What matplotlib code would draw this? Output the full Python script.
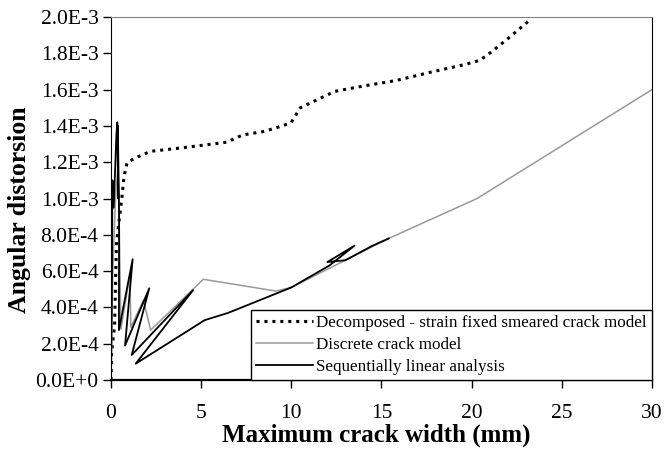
import matplotlib
matplotlib.use("Agg")
import matplotlib.pyplot as plt
from matplotlib.ticker import FuncFormatter, MultipleLocator

# Decomposed - strain fixed smeared crack model (dotted)
smeared_x = [0, 0.03, 0.2, 0.3, 0.45, 0.6, 0.7, 0.8, 0.9, 1.5, 2.2, 4.0, 6.4, 7.3, 8.5,
             9.5, 10.0, 10.5, 12.4, 14.0, 15.8, 17.9, 19.7, 20.4, 20.8, 22.0, 23.3]
smeared_y = [0, 0.15, 0.30, 0.75, 0.88, 1.00, 1.10, 1.16, 1.20, 1.23, 1.26, 1.28, 1.31, 1.35, 1.37,
             1.40, 1.42, 1.50, 1.59, 1.62, 1.65, 1.70, 1.74, 1.76, 1.785, 1.88, 1.99]

# Discrete crack model (grey)
discrete_x = [0, 0.1, 0.25, 0.4, 0.5, 0.55, 1.05, 1.1, 1.8, 2.2, 5.12, 9.15, 10.0, 15.4, 20.3, 30.0]
discrete_y = [0, 0.60, 1.00, 1.20, 0.60, 0.28, 0.58, 0.29, 0.44, 0.275, 0.555, 0.49, 0.51, 0.78, 1.00, 1.60]

# Sequentially linear analysis (black)
sla_x = [0, 0.05, 0.08, 0.15, 0.3, 0.35, 0.4, 0.38, 0.45, 0.44, 1.2, 0.78, 2.12, 1.15, 4.55, 1.37,
         5.2, 6.5, 8.0, 10.0, 12.1, 13.5, 12.0, 13.0, 14.5, 15.4]
sla_y = [0, 0.50, 1.10, 0.95, 1.35, 1.42, 1.00, 1.40, 0.90, 0.275, 0.665, 0.19, 0.505, 0.138, 0.495, 0.09,
         0.33, 0.37, 0.43, 0.51, 0.63, 0.74, 0.65, 0.66, 0.74, 0.78]

labels = ["Decomposed - strain fixed smeared crack model",
          "Discrete crack model",
          "Sequentially linear analysis"]


def sci_fmt(v, pos):
	if abs(v) < 1e-12:
		return "0.0E+0"
	s = "%.1E" % v
	mant, exp = s.split("E")
	return "%sE%s%d" % (mant, "-" if int(exp) < 0 else "+", abs(int(exp)))


plt.rcParams['font.family'] = ['Liberation Serif', 'DejaVu Serif']

fig = plt.figure(figsize=(6.67, 4.55), dpi=100)
ax = fig.add_axes([0.1664, 0.1648, 0.8111, 0.7978])

ax.plot(smeared_x, [v * 1e-3 for v in smeared_y], color='black', lw=2.2,
		linestyle=(0, (1, 1.6)), label=labels[0])
ax.plot(discrete_x, [v * 1e-3 for v in discrete_y], color='#999999', lw=1.1, label=labels[1])
ax.plot(sla_x, [v * 1e-3 for v in sla_y], color='black', lw=1.3, label=labels[2])

ax.set_xlim(0, 30)
ax.set_ylim(0, 2.0e-3)
ax.xaxis.set_major_locator(MultipleLocator(5))
ax.yaxis.set_major_locator(MultipleLocator(2.0e-4))
ax.yaxis.set_major_formatter(FuncFormatter(sci_fmt))
ax.tick_params(direction='out', length=6, width=1, labelsize=15.5, pad=3)
ax.tick_params(axis='x', pad=11)

for sp in ax.spines.values():
	sp.set_color('black')
ax.spines['top'].set_color('#808080')
ax.spines['bottom'].set_linewidth(1.6)

ax.set_xlabel("Maximum crack width (mm)", fontsize=18, fontweight='bold')
ax.set_ylabel("Angular distorsion", fontsize=18.5, fontweight='bold')
ax.xaxis.set_label_coords(0.49, -0.12)
ax.yaxis.set_label_coords(-0.148, 0.47)

leg = ax.legend(loc='lower right', bbox_to_anchor=(1.0, 0.0), borderaxespad=0,
				fontsize=12.3, frameon=True, fancybox=False, handlelength=3.3,
				handletextpad=0.2, labelspacing=0.35, borderpad=0.3)
leg.get_frame().set_edgecolor('black')
leg.get_frame().set_linewidth(1.0)
leg.get_frame().set_alpha(1.0)

fig.savefig("out.png", dpi=100)
